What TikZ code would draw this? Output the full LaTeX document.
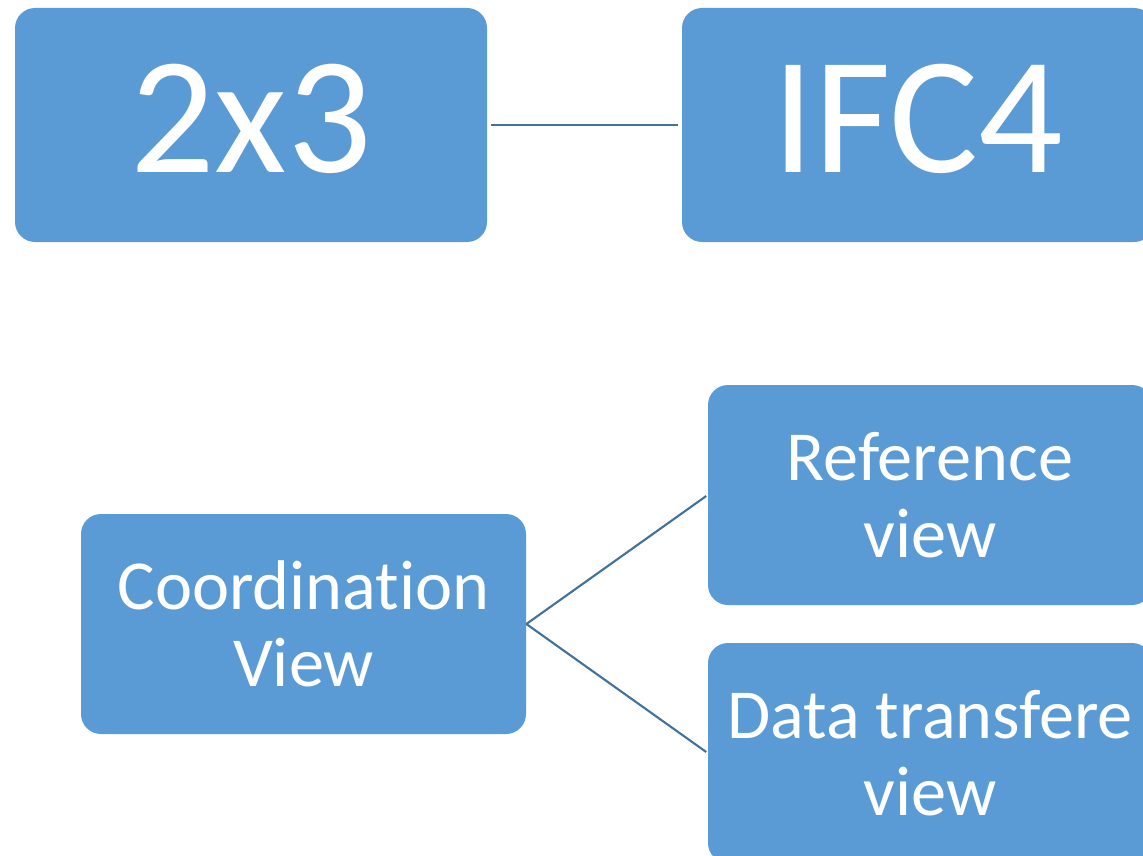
\documentclass[tikz,border=0pt]{standalone}
\usepackage{fontspec}
\setmainfont{Carlito}[Ligatures=NoCommon]
\usepackage{xcolor}
\usetikzlibrary{positioning}

\definecolor{boxblue}{HTML}{5B9BD5}
\definecolor{linkblue}{HTML}{41719C}

\tikzset{
    viewbox/.style={rectangle, rounded corners=0.4cm, fill=boxblue, text=white, align=center, inner sep=0pt},
    bigtext/.style={font=\fontsize{95}{110}\selectfont, text depth=8pt},
    smalltext/.style={font=\fontsize{40}{44}\selectfont},
    link/.style={draw=linkblue, line width=1.2pt}
}

\begin{document}
\begin{tikzpicture}
    \useasboundingbox (0,0) rectangle (22.86,-17.12);
    \clip (0,0) rectangle (22.86,-17.12);

    \node (F23) at (5.02,-2.5) [viewbox, bigtext, minimum width=9.44cm, minimum height=4.68cm] {2x3};
    \node (F4) at (18.36,-2.5) [viewbox, bigtext, minimum width=9.44cm, minimum height=4.68cm] {IFC4};

    \node (CV) at (6.07,-12.48) [viewbox, smalltext, minimum width=8.9cm, minimum height=4.4cm] {Coordination\\View};
    \node (RV) at (18.6,-9.9) [viewbox, smalltext, minimum width=8.88cm, minimum height=4.4cm] {Reference\\view};
    \node (DTV) at (18.6,-15.06) [viewbox, smalltext, minimum width=8.88cm, minimum height=4.4cm] {Data transfere\\view};

    \draw [link, shorten <=2pt, shorten >=2pt] (F23.east) -- (F4.west);
    \draw [link, shorten >=1pt] (CV.east) -- (RV.west);
    \draw [link, shorten >=1pt] (CV.east) -- (DTV.west);
\end{tikzpicture}
\end{document}
